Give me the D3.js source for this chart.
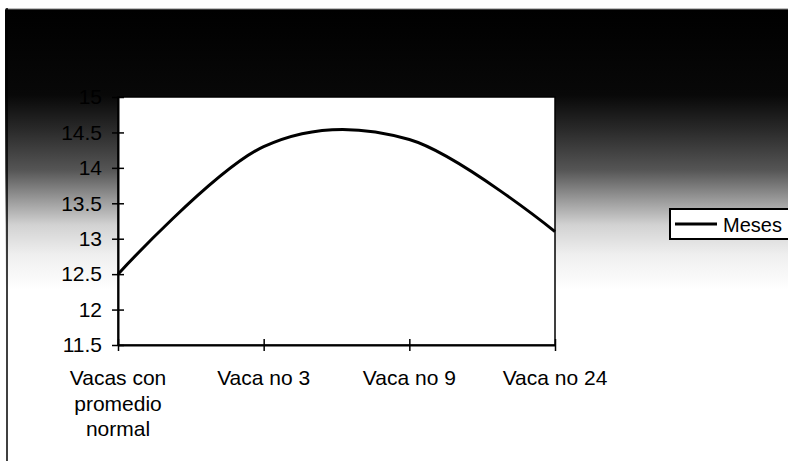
<!DOCTYPE html>
<html>
<head>
<meta charset="utf-8">
<script src="https://cdn.jsdelivr.net/npm/d3@7/dist/d3.min.js"></script>
<style>
  html, body { margin: 0; padding: 0; background: #fff; }
  svg { display: block; font-family: "Liberation Sans", Arial, sans-serif; }
</style>
</head>
<body>
<svg id="chart" width="788" height="461"></svg>
<script>
// ---- data ----
const categories = ["Vacas con promedio normal", "Vaca no 3", "Vaca no 9", "Vaca no 24"];
const categoryLines = [["Vacas con", "promedio", "normal"], ["Vaca no 3"], ["Vaca no 9"], ["Vaca no 24"]];
const mesesValues = [12.5, 14.3, 14.4, 13.1];
const yTicks = [11.5, 12, 12.5, 13, 13.5, 14, 14.5, 15];
const seriesName = "Meses";

// ---- layout ----
const W = 788, H = 461;
const plot = { left: 118, right: 555, top: 97, bottom: 345 };
const svg = d3.select("#chart");

// scanned background (dark band fading down)
const defs = svg.append("defs");
const grad = defs.append("linearGradient").attr("id", "bg")
  .attr("gradientUnits", "userSpaceOnUse")
  .attr("x1", 0).attr("y1", 0).attr("x2", 0).attr("y2", H);
[[0, "#ffffff"], [8, "#ffffff"], [10, "#000000"], [95, "#080808"], [130, "#2a2a2a"],
 [170, "#555555"], [200, "#9a9a9a"], [225, "#d2d2d2"], [255, "#efefef"], [290, "#ffffff"], [H, "#ffffff"]]
  .forEach(([y, c]) => grad.append("stop").attr("offset", y / H).attr("stop-color", c));
svg.append("rect").attr("x", 5).attr("y", 0).attr("width", W - 5).attr("height", H).attr("fill", "url(#bg)");

// chart area left border
svg.append("line").attr("x1", 7).attr("x2", 7).attr("y1", 8).attr("y2", H)
  .attr("stroke", "#000").attr("stroke-width", 1.5);

// scales
const x = d3.scalePoint().domain(categories).range([plot.left, plot.right]);
const y = d3.scaleLinear().domain([11.5, 15]).range([plot.bottom, plot.top]);

// plot area
svg.append("rect")
  .attr("x", plot.left).attr("y", plot.top)
  .attr("width", plot.right - plot.left).attr("height", plot.bottom - plot.top)
  .attr("fill", "#fff").attr("stroke", "#000").attr("stroke-width", 1.5);

// y axis
const yAxis = svg.append("g").attr("transform", `translate(${plot.left},0)`)
  .call(d3.axisLeft(y).tickValues(yTicks).tickSize(0).tickPadding(16)
    .tickFormat(d => String(d)));
yAxis.select(".domain").attr("stroke", "#000").attr("stroke-width", 2);
yAxis.selectAll(".tick line").attr("x1", -6).attr("x2", 6).attr("stroke", "#000").attr("stroke-width", 1.5);
yAxis.selectAll(".tick text").attr("font-size", 21).attr("fill", "#000")
  .attr("font-family", "Liberation Sans, Arial, sans-serif");

// x axis
const xAxis = svg.append("g").attr("transform", `translate(0,${plot.bottom})`)
  .call(d3.axisBottom(x).tickSize(0).tickFormat(""));
xAxis.select(".domain").attr("stroke", "#000").attr("stroke-width", 2);
xAxis.selectAll(".tick line").attr("y1", -6).attr("y2", 6).attr("stroke", "#000").attr("stroke-width", 1.5);

// category labels
categories.forEach((c, i) => {
  const t = svg.append("text")
    .attr("x", x(c)).attr("y", 385)
    .attr("text-anchor", "middle").attr("font-size", 21).attr("fill", "#000");
  categoryLines[i].forEach((ln, j) => {
    t.append("tspan").attr("x", x(c)).attr("dy", j === 0 ? 0 : 25.5).text(ln);
  });
});

// series line (smoothed)
const line = d3.line()
  .x((d, i) => x(categories[i]))
  .y(d => y(d))
  .curve(d3.curveCardinal.tension(0));
svg.append("path").datum(mesesValues)
  .attr("d", line).attr("fill", "none")
  .attr("stroke", "#000").attr("stroke-width", 3);

// legend
const lg = svg.append("g").attr("transform", "translate(670,209)");
lg.append("rect").attr("x", 0).attr("y", 0).attr("width", 130).attr("height", 30)
  .attr("fill", "#fff").attr("stroke", "#000").attr("stroke-width", 2);
lg.append("line").attr("x1", 5).attr("x2", 47).attr("y1", 15).attr("y2", 15)
  .attr("stroke", "#000").attr("stroke-width", 3);
lg.append("text").attr("x", 53).attr("y", 23).attr("font-size", 20).attr("fill", "#000").text(seriesName);
</script>
</body>
</html>
